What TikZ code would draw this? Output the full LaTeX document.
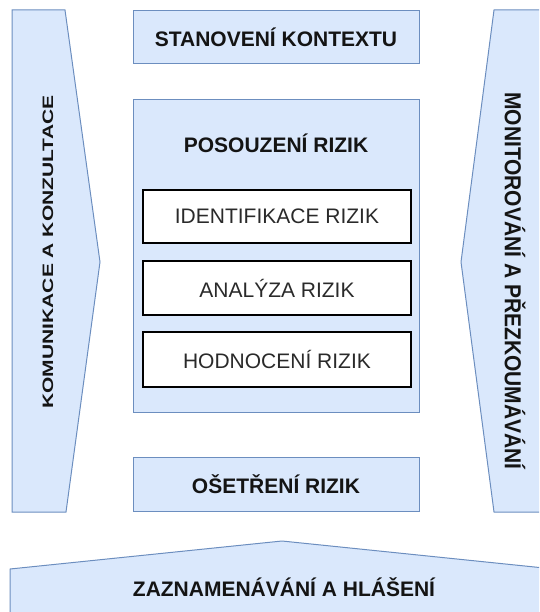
\documentclass[tikz,border=0pt]{standalone}
\usepackage{fontspec}
\setmainfont{Liberation Sans}
\definecolor{bfill}{HTML}{DAE8FC}
\definecolor{bline}{HTML}{6C8EBF}
\definecolor{txtdark}{HTML}{141414}
\definecolor{txtgray}{HTML}{2A2A2A}
\begin{document}
\begin{tikzpicture}[x=1pt,y=-1pt,
  bluebox/.style={draw=bline,fill=bfill,line width=1pt,inner sep=0pt},
  whitebox/.style={draw=black,fill=white,line width=1.2pt,inner sep=0pt},
  boldtxt/.style={font=\fontsize{21pt}{25pt}\selectfont\bfseries,text=txtdark},
  regtxt/.style={font=\fontsize{21pt}{25pt}\selectfont,text=txtgray}]
\useasboundingbox (0,0) rectangle (539,612);
\begin{scope}
\clip (0,0) rectangle (539,612);
% side and bottom arrows
\path[bluebox] (12,10) -- (65,10) -- (100,262) -- (66,512) -- (12,512) -- cycle;
\path[bluebox] (494,10) -- (560,10) -- (560,512) -- (494,512) -- (461,262) -- cycle;
\path[bluebox] (10,569) -- (282,541) -- (554,569) -- (554,640) -- (10,640) -- cycle;
\end{scope}
\node[boldtxt,rotate=90] (kom) at (48,252) {\scalebox{1}[0.72]{KOMUNIKACE A KONZULTACE}};
\node[boldtxt,rotate=-90] (mon) at (515,281) {\scalebox{1}[1.1]{MONITOROVÁNÍ A PŘEZKOUMÁVÁNÍ}};
\node[boldtxt] (zaz) at (284,587) {ZAZNAMENÁVÁNÍ A HLÁŠENÍ};
% central column
\node[bluebox,minimum width=286pt,minimum height=53pt] (ctx) at (276,37.5) {};
\node[boldtxt] at (ctx.center) {STANOVENÍ KONTEXTU};
\node[bluebox,minimum width=286pt,minimum height=312pt] (pos) at (276,256) {};
\node[boldtxt] (post) at (276,143) {POSOUZENÍ RIZIK};
\node[whitebox,minimum width=268pt,minimum height=53pt] (ide) at (277,216.5) {};
\node[regtxt] at (ide.center) {IDENTIFIKACE RIZIK};
\node[whitebox,minimum width=268pt,minimum height=54pt] (ana) at (277,288) {};
\node[regtxt] at (ana.center) {ANALÝZA RIZIK};
\node[whitebox,minimum width=268pt,minimum height=55pt] (hod) at (277,359.5) {};
\node[regtxt] at (hod.center) {HODNOCENÍ RIZIK};
\node[bluebox,minimum width=286pt,minimum height=54pt] (ose) at (276,484) {};
\node[boldtxt] at (ose.center) {OŠETŘENÍ RIZIK};
\end{tikzpicture}
\end{document}
